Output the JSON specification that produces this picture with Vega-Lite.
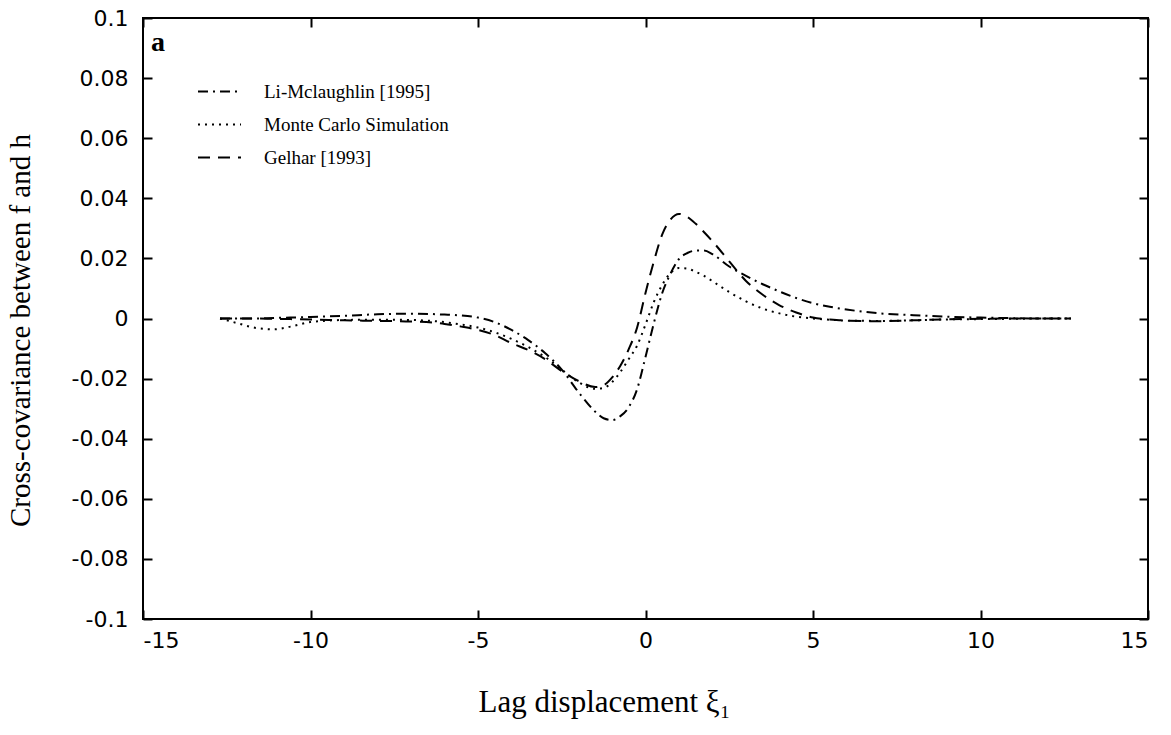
{
  "$schema": "https://vega.github.io/schema/vega-lite/v6.json",
  "width": 1005,
  "height": 601,
  "autosize": {"type": "none"},
  "padding": {"left": 143, "top": 18, "right": 23, "bottom": 116},
  "background": "white",
  "config": {
    "view": {"stroke": "black", "strokeWidth": 2},
    "axis": {
      "labelFont": "DejaVu Sans",
      "labelFontSize": 22,
      "labelColor": "black",
      "ticks": true,
      "tickColor": "black",
      "tickOpacity": 1,
      "tickSize": 9,
      "tickWidth": 2,
      "offset": -9,
      "domain": false,
      "grid": false,
      "titleFont": "Liberation Serif",
      "titleFontWeight": "normal",
      "titleColor": "black"
    }
  },
  "title": {
    "text": "a",
    "anchor": "start",
    "frame": "group",
    "orient": "top",
    "font": "Liberation Serif",
    "fontSize": 28,
    "fontWeight": "bold",
    "color": "black",
    "dx": 8,
    "dy": 54
  },
  "datasets": {
    "curves": [
      {"lag": -12.7, "cov": 0, "series": "Li-Mclaughlin [1995]"},
      {"lag": -12.2, "cov": 0, "series": "Li-Mclaughlin [1995]"},
      {"lag": -11.6, "cov": 0, "series": "Li-Mclaughlin [1995]"},
      {"lag": -11.1, "cov": 0.0002, "series": "Li-Mclaughlin [1995]"},
      {"lag": -10.6, "cov": 0.0003, "series": "Li-Mclaughlin [1995]"},
      {"lag": -10, "cov": 0.0005, "series": "Li-Mclaughlin [1995]"},
      {"lag": -9, "cov": 0.0009, "series": "Li-Mclaughlin [1995]"},
      {"lag": -8, "cov": 0.0014, "series": "Li-Mclaughlin [1995]"},
      {"lag": -7, "cov": 0.0016, "series": "Li-Mclaughlin [1995]"},
      {"lag": -6, "cov": 0.0013, "series": "Li-Mclaughlin [1995]"},
      {"lag": -5.5, "cov": 0.001, "series": "Li-Mclaughlin [1995]"},
      {"lag": -5, "cov": 0.0003, "series": "Li-Mclaughlin [1995]"},
      {"lag": -4.5, "cov": -0.0012, "series": "Li-Mclaughlin [1995]"},
      {"lag": -4, "cov": -0.0038, "series": "Li-Mclaughlin [1995]"},
      {"lag": -3.5, "cov": -0.0072, "series": "Li-Mclaughlin [1995]"},
      {"lag": -3, "cov": -0.0115, "series": "Li-Mclaughlin [1995]"},
      {"lag": -2.5, "cov": -0.017, "series": "Li-Mclaughlin [1995]"},
      {"lag": -2, "cov": -0.0245, "series": "Li-Mclaughlin [1995]"},
      {"lag": -1.5, "cov": -0.031, "series": "Li-Mclaughlin [1995]"},
      {"lag": -1.25, "cov": -0.0332, "series": "Li-Mclaughlin [1995]"},
      {"lag": -1, "cov": -0.0338, "series": "Li-Mclaughlin [1995]"},
      {"lag": -0.75, "cov": -0.0325, "series": "Li-Mclaughlin [1995]"},
      {"lag": -0.5, "cov": -0.0295, "series": "Li-Mclaughlin [1995]"},
      {"lag": -0.25, "cov": -0.0235, "series": "Li-Mclaughlin [1995]"},
      {"lag": 0, "cov": -0.0128, "series": "Li-Mclaughlin [1995]"},
      {"lag": 0.25, "cov": -0.0015, "series": "Li-Mclaughlin [1995]"},
      {"lag": 0.5, "cov": 0.0085, "series": "Li-Mclaughlin [1995]"},
      {"lag": 0.75, "cov": 0.015, "series": "Li-Mclaughlin [1995]"},
      {"lag": 1, "cov": 0.0198, "series": "Li-Mclaughlin [1995]"},
      {"lag": 1.25, "cov": 0.0218, "series": "Li-Mclaughlin [1995]"},
      {"lag": 1.5, "cov": 0.0226, "series": "Li-Mclaughlin [1995]"},
      {"lag": 1.75, "cov": 0.0226, "series": "Li-Mclaughlin [1995]"},
      {"lag": 2, "cov": 0.0214, "series": "Li-Mclaughlin [1995]"},
      {"lag": 2.5, "cov": 0.0173, "series": "Li-Mclaughlin [1995]"},
      {"lag": 3, "cov": 0.0142, "series": "Li-Mclaughlin [1995]"},
      {"lag": 3.5, "cov": 0.0114, "series": "Li-Mclaughlin [1995]"},
      {"lag": 4, "cov": 0.009, "series": "Li-Mclaughlin [1995]"},
      {"lag": 4.5, "cov": 0.0068, "series": "Li-Mclaughlin [1995]"},
      {"lag": 5, "cov": 0.0051, "series": "Li-Mclaughlin [1995]"},
      {"lag": 5.5, "cov": 0.0039, "series": "Li-Mclaughlin [1995]"},
      {"lag": 6, "cov": 0.003, "series": "Li-Mclaughlin [1995]"},
      {"lag": 7, "cov": 0.0017, "series": "Li-Mclaughlin [1995]"},
      {"lag": 8, "cov": 0.0011, "series": "Li-Mclaughlin [1995]"},
      {"lag": 9, "cov": 0.0006, "series": "Li-Mclaughlin [1995]"},
      {"lag": 10, "cov": 0.0003, "series": "Li-Mclaughlin [1995]"},
      {"lag": 11, "cov": 0.0001, "series": "Li-Mclaughlin [1995]"},
      {"lag": 12, "cov": 0, "series": "Li-Mclaughlin [1995]"},
      {"lag": 12.7, "cov": 0, "series": "Li-Mclaughlin [1995]"},

      {"lag": -12.7, "cov": 0, "series": "Monte Carlo Simulation"},
      {"lag": -12.2, "cov": -0.0015, "series": "Monte Carlo Simulation"},
      {"lag": -11.6, "cov": -0.0032, "series": "Monte Carlo Simulation"},
      {"lag": -11.1, "cov": -0.0036, "series": "Monte Carlo Simulation"},
      {"lag": -10.6, "cov": -0.0027, "series": "Monte Carlo Simulation"},
      {"lag": -10, "cov": -0.0012, "series": "Monte Carlo Simulation"},
      {"lag": -9, "cov": -0.0005, "series": "Monte Carlo Simulation"},
      {"lag": -8, "cov": -0.0004, "series": "Monte Carlo Simulation"},
      {"lag": -7, "cov": -0.0005, "series": "Monte Carlo Simulation"},
      {"lag": -6, "cov": -0.0012, "series": "Monte Carlo Simulation"},
      {"lag": -5.5, "cov": -0.002, "series": "Monte Carlo Simulation"},
      {"lag": -5, "cov": -0.003, "series": "Monte Carlo Simulation"},
      {"lag": -4.5, "cov": -0.0046, "series": "Monte Carlo Simulation"},
      {"lag": -4, "cov": -0.0068, "series": "Monte Carlo Simulation"},
      {"lag": -3.5, "cov": -0.0095, "series": "Monte Carlo Simulation"},
      {"lag": -3, "cov": -0.0128, "series": "Monte Carlo Simulation"},
      {"lag": -2.5, "cov": -0.017, "series": "Monte Carlo Simulation"},
      {"lag": -2, "cov": -0.0212, "series": "Monte Carlo Simulation"},
      {"lag": -1.5, "cov": -0.0234, "series": "Monte Carlo Simulation"},
      {"lag": -1.25, "cov": -0.0231, "series": "Monte Carlo Simulation"},
      {"lag": -1, "cov": -0.0212, "series": "Monte Carlo Simulation"},
      {"lag": -0.75, "cov": -0.0178, "series": "Monte Carlo Simulation"},
      {"lag": -0.5, "cov": -0.0135, "series": "Monte Carlo Simulation"},
      {"lag": -0.25, "cov": -0.009, "series": "Monte Carlo Simulation"},
      {"lag": 0, "cov": -0.002, "series": "Monte Carlo Simulation"},
      {"lag": 0.25, "cov": 0.0055, "series": "Monte Carlo Simulation"},
      {"lag": 0.5, "cov": 0.0112, "series": "Monte Carlo Simulation"},
      {"lag": 0.75, "cov": 0.0152, "series": "Monte Carlo Simulation"},
      {"lag": 1, "cov": 0.0168, "series": "Monte Carlo Simulation"},
      {"lag": 1.25, "cov": 0.0166, "series": "Monte Carlo Simulation"},
      {"lag": 1.5, "cov": 0.0155, "series": "Monte Carlo Simulation"},
      {"lag": 1.75, "cov": 0.0142, "series": "Monte Carlo Simulation"},
      {"lag": 2, "cov": 0.0124, "series": "Monte Carlo Simulation"},
      {"lag": 2.5, "cov": 0.0088, "series": "Monte Carlo Simulation"},
      {"lag": 3, "cov": 0.0057, "series": "Monte Carlo Simulation"},
      {"lag": 3.5, "cov": 0.0033, "series": "Monte Carlo Simulation"},
      {"lag": 4, "cov": 0.0017, "series": "Monte Carlo Simulation"},
      {"lag": 4.5, "cov": 0.0006, "series": "Monte Carlo Simulation"},
      {"lag": 5, "cov": 0, "series": "Monte Carlo Simulation"},
      {"lag": 5.5, "cov": -0.0004, "series": "Monte Carlo Simulation"},
      {"lag": 6, "cov": -0.0007, "series": "Monte Carlo Simulation"},
      {"lag": 7, "cov": -0.0008, "series": "Monte Carlo Simulation"},
      {"lag": 8, "cov": -0.0006, "series": "Monte Carlo Simulation"},
      {"lag": 9, "cov": -0.0003, "series": "Monte Carlo Simulation"},
      {"lag": 10, "cov": -0.0002, "series": "Monte Carlo Simulation"},
      {"lag": 11, "cov": -0.0001, "series": "Monte Carlo Simulation"},
      {"lag": 12, "cov": 0, "series": "Monte Carlo Simulation"},
      {"lag": 12.7, "cov": 0, "series": "Monte Carlo Simulation"},

      {"lag": -12.7, "cov": 0, "series": "Gelhar [1993]"},
      {"lag": -12.2, "cov": 0, "series": "Gelhar [1993]"},
      {"lag": -11.6, "cov": 0, "series": "Gelhar [1993]"},
      {"lag": -11.1, "cov": -0.0001, "series": "Gelhar [1993]"},
      {"lag": -10.6, "cov": -0.0002, "series": "Gelhar [1993]"},
      {"lag": -10, "cov": -0.0003, "series": "Gelhar [1993]"},
      {"lag": -9, "cov": -0.0006, "series": "Gelhar [1993]"},
      {"lag": -8, "cov": -0.0008, "series": "Gelhar [1993]"},
      {"lag": -7, "cov": -0.001, "series": "Gelhar [1993]"},
      {"lag": -6, "cov": -0.0018, "series": "Gelhar [1993]"},
      {"lag": -5.5, "cov": -0.0027, "series": "Gelhar [1993]"},
      {"lag": -5, "cov": -0.0038, "series": "Gelhar [1993]"},
      {"lag": -4.5, "cov": -0.0055, "series": "Gelhar [1993]"},
      {"lag": -4, "cov": -0.0082, "series": "Gelhar [1993]"},
      {"lag": -3.5, "cov": -0.0105, "series": "Gelhar [1993]"},
      {"lag": -3, "cov": -0.0135, "series": "Gelhar [1993]"},
      {"lag": -2.5, "cov": -0.0175, "series": "Gelhar [1993]"},
      {"lag": -2, "cov": -0.0208, "series": "Gelhar [1993]"},
      {"lag": -1.5, "cov": -0.0228, "series": "Gelhar [1993]"},
      {"lag": -1.25, "cov": -0.0222, "series": "Gelhar [1993]"},
      {"lag": -1, "cov": -0.0197, "series": "Gelhar [1993]"},
      {"lag": -0.75, "cov": -0.0157, "series": "Gelhar [1993]"},
      {"lag": -0.5, "cov": -0.0102, "series": "Gelhar [1993]"},
      {"lag": -0.25, "cov": -0.003, "series": "Gelhar [1993]"},
      {"lag": 0, "cov": 0.0085, "series": "Gelhar [1993]"},
      {"lag": 0.25, "cov": 0.019, "series": "Gelhar [1993]"},
      {"lag": 0.5, "cov": 0.028, "series": "Gelhar [1993]"},
      {"lag": 0.75, "cov": 0.033, "series": "Gelhar [1993]"},
      {"lag": 1, "cov": 0.0348, "series": "Gelhar [1993]"},
      {"lag": 1.25, "cov": 0.0338, "series": "Gelhar [1993]"},
      {"lag": 1.5, "cov": 0.0315, "series": "Gelhar [1993]"},
      {"lag": 1.75, "cov": 0.0287, "series": "Gelhar [1993]"},
      {"lag": 2, "cov": 0.0257, "series": "Gelhar [1993]"},
      {"lag": 2.5, "cov": 0.019, "series": "Gelhar [1993]"},
      {"lag": 3, "cov": 0.0125, "series": "Gelhar [1993]"},
      {"lag": 3.5, "cov": 0.0079, "series": "Gelhar [1993]"},
      {"lag": 4, "cov": 0.0044, "series": "Gelhar [1993]"},
      {"lag": 4.5, "cov": 0.002, "series": "Gelhar [1993]"},
      {"lag": 5, "cov": 0.0003, "series": "Gelhar [1993]"},
      {"lag": 5.5, "cov": -0.0003, "series": "Gelhar [1993]"},
      {"lag": 6, "cov": -0.0007, "series": "Gelhar [1993]"},
      {"lag": 7, "cov": -0.0009, "series": "Gelhar [1993]"},
      {"lag": 8, "cov": -0.0006, "series": "Gelhar [1993]"},
      {"lag": 9, "cov": -0.0003, "series": "Gelhar [1993]"},
      {"lag": 10, "cov": -0.0001, "series": "Gelhar [1993]"},
      {"lag": 11, "cov": 0, "series": "Gelhar [1993]"},
      {"lag": 12, "cov": 0, "series": "Gelhar [1993]"},
      {"lag": 12.7, "cov": 0, "series": "Gelhar [1993]"}
    ]
  },
  "data": {"name": "curves"},
  "layer": [
    {
      "mark": {"type": "line", "interpolate": "monotone", "color": "black", "strokeWidth": 2},
      "encoding": {
        "x": {
          "field": "lag",
          "type": "quantitative",
          "scale": {"domain": [-15, 15], "nice": false, "zero": false},
          "axis": {
            "orient": "bottom",
            "values": [-15, -10, -5, 0, 5, 10, 15],
            "labelExpr": "'' + datum.value",
            "labelPadding": 11,
            "title": "Lag displacement ξ₁",
            "titleFontSize": 31,
            "titleX": 461,
            "titlePadding": 36
          }
        },
        "y": {
          "field": "cov",
          "type": "quantitative",
          "scale": {"domain": [-0.1, 0.1], "nice": false, "zero": false},
          "axis": {
            "orient": "left",
            "values": [-0.1, -0.08, -0.06, -0.04, -0.02, 0, 0.02, 0.04, 0.06, 0.08, 0.1],
            "labelExpr": "'' + round(datum.value * 100) / 100",
            "labelPadding": 15,
            "title": "Cross-covariance between f and h",
            "titleFontSize": 29,
            "titleY": 312,
            "titlePadding": 36
          }
        },
        "strokeDash": {
          "field": "series",
          "type": "nominal",
          "scale": {
            "domain": ["Li-Mclaughlin [1995]", "Monte Carlo Simulation", "Gelhar [1993]"],
            "range": [[10, 5, 2, 5], [2, 5], [12, 8]]
          },
          "legend": {
            "orient": "none",
            "legendX": 54,
            "legendY": 51,
            "title": null,
            "symbolType": "stroke",
            "symbolSize": 1849,
            "symbolStrokeWidth": 2,
            "symbolStrokeColor": "black",
            "labelFont": "Liberation Serif",
            "labelFontSize": 19,
            "labelColor": "black",
            "labelLimit": 0,
            "labelOffset": 22,
            "rowPadding": 0
          }
        }
      }
    },
    {
      "mark": {"type": "line", "strokeOpacity": 0},
      "encoding": {
        "x": {
          "field": "lag",
          "type": "quantitative",
          "scale": {"domain": [-15, 15], "nice": false, "zero": false},
          "axis": {"orient": "top", "values": [-15, -10, -5, 0, 5, 10, 15], "labels": false, "title": null}
        },
        "y": {
          "field": "cov",
          "type": "quantitative",
          "scale": {"domain": [-0.1, 0.1], "nice": false, "zero": false},
          "axis": {"orient": "right", "values": [-0.1, -0.08, -0.06, -0.04, -0.02, 0, 0.02, 0.04, 0.06, 0.08, 0.1], "labels": false, "title": null}
        },
        "detail": {"field": "series", "type": "nominal"}
      }
    }
  ],
  "resolve": {"axis": {"x": "independent", "y": "independent"}}
}
